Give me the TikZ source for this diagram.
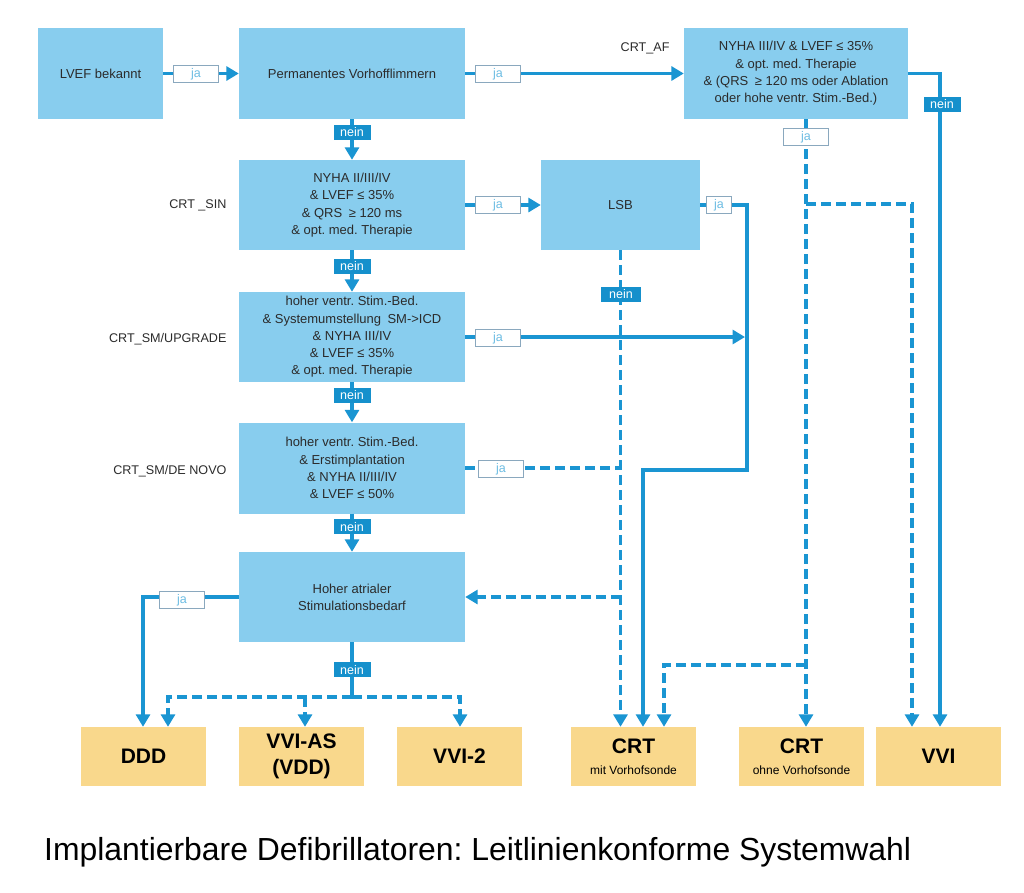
\documentclass[tikz,border=0pt]{standalone}
\usepackage{fontspec}
\setmainfont{Liberation Sans}
\usetikzlibrary{arrows.meta}
\frenchspacing
\definecolor{boxblue}{HTML}{88CDEE}
\definecolor{lineblue}{HTML}{1A95D2}
\definecolor{neinblue}{HTML}{1590CC}
\definecolor{jatext}{HTML}{6DBDE3}
\definecolor{jaborder}{HTML}{8AA8BE}
\definecolor{orangebox}{HTML}{F9D88C}
\definecolor{txt}{HTML}{2B2B2B}
\tikzset{
  bbox/.style={fill=boxblue, inner sep=0pt, align=center, text=txt, font=\fontsize{13}{17.3}\selectfont},
  obox/.style={fill=orangebox, inner sep=0pt, align=center, text=black, minimum width=125pt, minimum height=59pt},
  jalab/.style={draw=jaborder, line width=0.8pt, fill=white, text=jatext, minimum width=45pt, minimum height=17pt, inner sep=0pt, text height=7pt, text depth=0pt, font=\fontsize{12.5}{12}\selectfont},
  neinlab/.style={fill=neinblue, text=white, minimum width=37pt, minimum height=15pt, inner sep=0pt, text height=9pt, text depth=0pt, font=\fontsize{12.5}{12}\selectfont},
  sidelab/.style={anchor=east, text=txt, font=\fontsize{12.6}{13}\selectfont},
  conn/.style={draw=lineblue, line width=3.8pt},
  arr/.style={conn, -{Triangle[length=12.5pt,width=14pt]}},
  dline/.style={conn, dash pattern=on 10pt off 5pt},
  darr/.style={dline, -{Triangle[length=12.5pt,width=14pt]}},
  big/.style={font=\fontsize{21}{26}\selectfont\bfseries},
  two/.style={font=\fontsize{12}{21}\selectfont}
}
\begin{document}
\begin{tikzpicture}[x=1pt,y=-1pt]
\useasboundingbox (0,0) rectangle (1024,892);
\fill[white] (0,0) rectangle (1024,892);

% blue boxes
\node[bbox, minimum width=125pt, minimum height=91pt] (lvef) at (100.5,73.5) {LVEF bekannt};
\node[bbox, minimum width=226pt, minimum height=91pt] (perm) at (352,73.5) {Permanentes Vorhofflimmern};
\node[bbox, minimum width=224pt, minimum height=91pt] (crtaf) at (796,73.5) {NYHA III/IV \& LVEF ≤ 35\%\\\& opt. med. Therapie\\\& (QRS\enspace ≥ 120 ms oder Ablation\\oder hohe ventr. Stim.-Bed.)};
\node[bbox, minimum width=226pt, minimum height=90pt] (sin) at (352,205) {NYHA II/III/IV\\\& LVEF ≤ 35\%\\\& QRS\enspace ≥ 120 ms\\\& opt. med. Therapie};
\node[bbox, minimum width=159pt, minimum height=90pt] (lsb) at (620.5,205) {LSB};
\node[bbox, minimum width=226pt, minimum height=90pt] (upg) at (352,337) {hoher ventr. Stim.-Bed.\\\& Systemumstellung\enspace SM->ICD\\\& NYHA III/IV\\\& LVEF ≤ 35\%\\\& opt. med. Therapie};
\node[bbox, minimum width=226pt, minimum height=91pt] (novo) at (352,468) {hoher ventr. Stim.-Bed.\\\& Erstimplantation\\\& NYHA II/III/IV\\\& LVEF ≤ 50\%};
\node[bbox, minimum width=226pt, minimum height=90pt] (hoher) at (352,597) {Hoher atrialer\\Stimulationsbedarf};

% side labels
\node[sidelab] (lafl) at (673,48) {CRT\_AF};
\node[sidelab] (lsin) at (230,205) {CRT \_SIN};
\node[sidelab] (lupg) at (230,339) {CRT\_SM/UPGRADE};
\node[sidelab] (lnovo) at (230,471) {CRT\_SM/DE NOVO};

% orange boxes
\node[obox, big] (ddd) at (143.5,756.5) {DDD};
\node[obox, big] (vvias) at (301.5,756.5) {VVI-AS\\(VDD)};
\node[obox, big] (vvi2) at (459.5,756.5) {VVI-2};
\node[obox, two] (crtmit) at (633.5,756.5) {{\fontsize{21}{24}\selectfont\bfseries CRT}\\{\fontsize{12}{14}\selectfont mit Vorhofsonde}};
\node[obox, two] (crtohne) at (801.5,756.5) {{\fontsize{21}{24}\selectfont\bfseries CRT}\\{\fontsize{12}{14}\selectfont ohne Vorhofsonde}};
\node[obox, big] (vvi) at (938.5,756.5) {VVI};

% routing coordinates
\coordinate (k1) at (940,73.5);
\coordinate (b1) at (806,204);
\coordinate (b2) at (912,204);
\coordinate (b3) at (806,665);
\coordinate (b4) at (664,665);
\coordinate (r1) at (747,205);
\coordinate (r2) at (747,470);
\coordinate (r3) at (643,470);
\coordinate (d1) at (620.5,597);
\coordinate (d2) at (620.5,468);
\coordinate (h1) at (143,597);
\coordinate (s1) at (352,697);
\coordinate (s2) at (168,697);
\coordinate (s3) at (305,697);
\coordinate (s4) at (460,697);

% connectors
\draw[arr] (lvef.east) -- (perm.west);
\draw[arr] (perm.east) -- (crtaf.west);
\draw[arr] (crtaf.east) -- (k1) -- (k1 |- vvi.north);
\draw[conn] ([xshift=10pt]crtaf.south) -- ++(0,10);
\draw[darr] ([xshift=10pt]crtaf.south) -- ([xshift=4.5pt]crtohne.north);
\draw[darr] (b1) -- (b2) -- (b2 |- vvi.north);
\draw[darr] (b3) -- (b4) -- (b4 |- crtmit.north);
\draw[arr] (perm.south) -- (sin.north);
\draw[arr] (sin.east) -- (lsb.west);
\draw[arr] (lsb.east) -- (r1) -- (r2) -- (r3) -- (r3 |- crtmit.north);
\draw[darr] (lsb.south) -- (lsb.south |- crtmit.north);
\draw[darr] (d1) -- (hoher.east);
\draw[arr] (sin.south) -- (upg.north);
\draw[arr] (upg.east) -- ([xshift=-2pt]r1 |- upg.east);
\draw[arr] (upg.south) -- (novo.north);
\draw[dline] (novo.east) -- (d2);
\draw[arr] (novo.south) -- (hoher.north);
\draw[arr] (hoher.west) -- (h1) -- (h1 |- ddd.north);
\draw[conn] (hoher.south) -- (s1);
\draw[darr] (s1) -- (s2) -- (s2 |- ddd.north);
\draw[darr] (s3) -- (s3 |- vvias.north);
\draw[darr] (s1) -- (s4) -- (s4 |- vvi2.north);

% ja / nein labels
\node[jalab] (ja1) at (196,73.5) {ja};
\node[jalab] (ja2) at (498,73.5) {ja};
\node[jalab] (ja3) at (806,137) {ja};
\node[jalab] (ja4) at (498,205) {ja};
\node[jalab, minimum width=25pt] (ja5) at (719,205) {ja};
\node[jalab] (ja6) at (498,338) {ja};
\node[jalab] (ja7) at (501,469) {ja};
\node[jalab] (ja8) at (182,600) {ja};
\node[neinlab] (n1) at (942,104) {nein};
\node[neinlab] (n2) at (352,132) {nein};
\node[neinlab] (n3) at (352,266) {nein};
\node[neinlab] (n4) at (352,395) {nein};
\node[neinlab] (n5) at (352,526.5) {nein};
\node[neinlab] (n6) at (352,669.5) {nein};
\node[neinlab, minimum width=40pt] (n7) at (621,294) {nein};

% title
\node[anchor=base west, inner sep=0pt, text=black, font=\fontsize{31.9}{34}\selectfont] (title) at (44,860) {Implantierbare Defibrillatoren: Leitlinienkonforme Systemwahl};
\end{tikzpicture}
\end{document}
